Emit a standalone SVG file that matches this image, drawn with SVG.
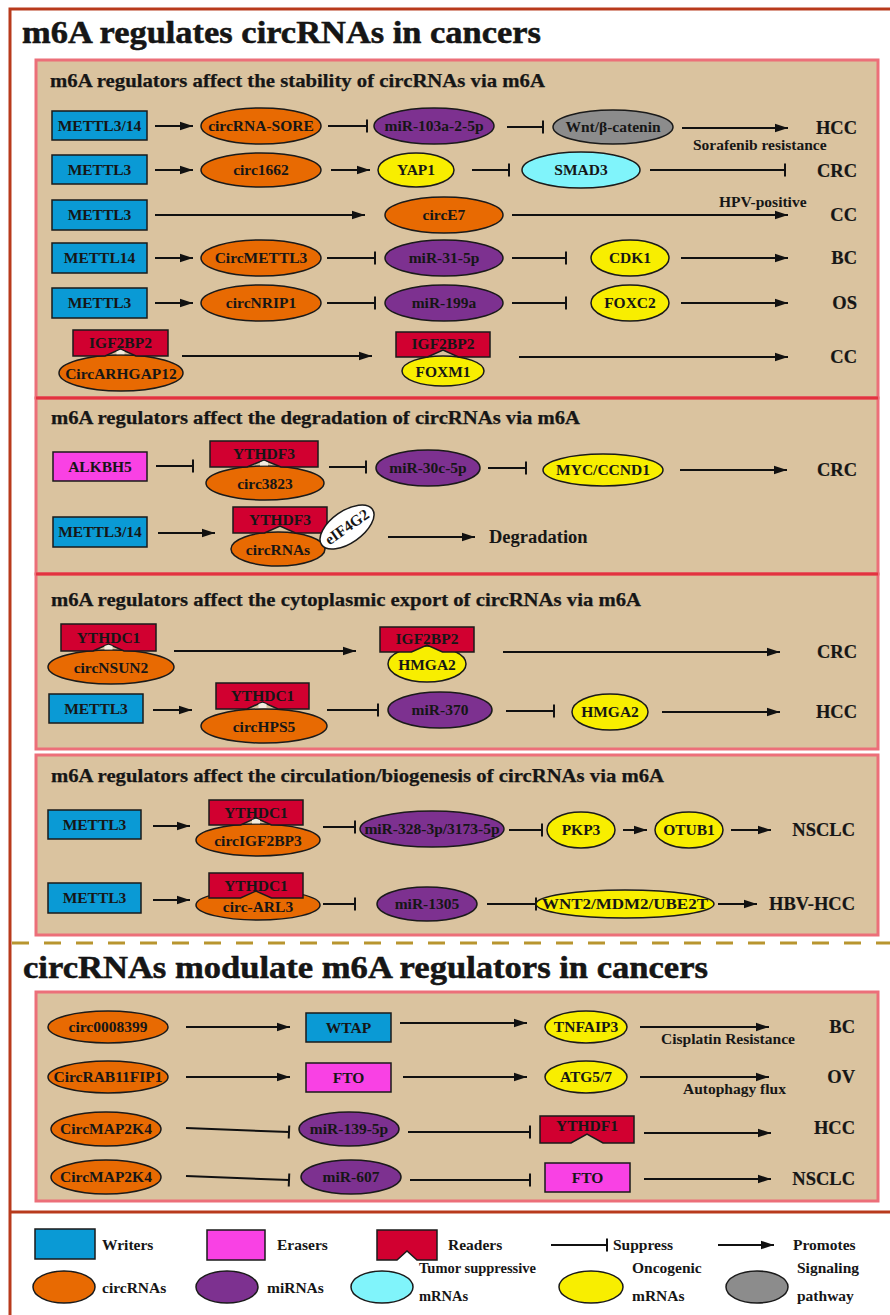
<svg xmlns="http://www.w3.org/2000/svg" width="890" height="1315" viewBox="0 0 890 1315">
<defs>
<style>
text{font-family:"Liberation Serif","Times New Roman",serif;font-weight:bold;fill:#161616}
.t{font-size:15.5px;text-anchor:middle}
.lb{font-size:15.5px}
.dz{font-size:18.5px;text-anchor:end;stroke:#161616;stroke-width:0.2}
.hd{font-size:19px;stroke:#161616;stroke-width:0.25}
.tt{font-size:31px;stroke:#111;stroke-width:0.5}
.w{fill:#0a9ad5;stroke:#1a1a1a;stroke-width:1.5}
.e{fill:#f941e4;stroke:#1a1a1a;stroke-width:1.5}
.r{fill:#d10030;stroke:#1a1a1a;stroke-width:1.5}
.c{fill:#e86a02;stroke:#1a1a1a;stroke-width:1.5}
.m{fill:#7d3190;stroke:#1a1a1a;stroke-width:1.5}
.ts{fill:#80f4fb;stroke:#1a1a1a;stroke-width:1.5}
.o{fill:#f8ee00;stroke:#1a1a1a;stroke-width:1.5}
.sg{fill:#8c8c8c;stroke:#1a1a1a;stroke-width:1.5}
.wh{fill:#ffffff;stroke:#1a1a1a;stroke-width:1.5}
.sec{fill:#dac39f;stroke:#ec6f79;stroke-width:3}
.p{stroke:#111;stroke-width:2;fill:none;marker-end:url(#ar)}
.s{stroke:#111;stroke-width:2;fill:none;marker-end:url(#bar)}
.gap{fill:#f3ece0}
</style>
<marker id="ar" markerUnits="userSpaceOnUse" markerWidth="14" markerHeight="10" refX="13" refY="5" orient="auto"><path d="M0,0.8 L13,5 L0,9.2 Z" fill="#111"/></marker>
<marker id="bar" markerUnits="userSpaceOnUse" markerWidth="4" markerHeight="14" refX="2" refY="7" orient="auto"><rect x="1" y="0.5" width="2" height="13" fill="#111"/></marker>
</defs>
<rect x="0" y="0" width="890" height="1315" fill="#ffffff"/>
<g id="frame" fill="none" stroke="#b83a1c" stroke-width="3">
<path d="M892,9 H10 V1317"/>
<line x1="10" y1="1212" x2="892" y2="1212"/>
</g>
<line x1="12" y1="943" x2="890" y2="943" stroke="#b8952f" stroke-width="3" stroke-dasharray="17 15"/>
<g id="sections">
<rect class="sec" x="36" y="60" width="842" height="338"/>
<rect class="sec" x="36" y="398" width="842" height="176"/>
<rect class="sec" x="36" y="574" width="842" height="175"/>
<rect class="sec" x="36" y="755" width="842" height="180"/>
<rect class="sec" x="36" y="992" width="842" height="209"/>
<line x1="36" y1="398" x2="878" y2="398" stroke="#e2333f" stroke-width="3"/>
<line x1="36" y1="574" x2="878" y2="574" stroke="#e2333f" stroke-width="3"/>
</g>
<g id="titles">
<text class="tt" x="22" y="43" textLength="519" lengthAdjust="spacingAndGlyphs">m6A regulates circRNAs in cancers</text>
<text class="tt" x="23" y="978" textLength="685" lengthAdjust="spacingAndGlyphs">circRNAs modulate m6A regulators in cancers</text>
<text class="hd" x="50" y="87" textLength="495" lengthAdjust="spacingAndGlyphs">m6A regulators affect the stability of circRNAs via m6A</text>
<text class="hd" x="51" y="424" textLength="529" lengthAdjust="spacingAndGlyphs">m6A regulators affect the degradation of circRNAs via m6A</text>
<text class="hd" x="51" y="606" textLength="590" lengthAdjust="spacingAndGlyphs">m6A regulators affect the cytoplasmic export of circRNAs via m6A</text>
<text class="hd" x="51" y="782" textLength="613" lengthAdjust="spacingAndGlyphs">m6A regulators affect the circulation/biogenesis of circRNAs via m6A</text>
</g>
<g id="connectors">
<line class="p" x1="155" y1="126" x2="193" y2="126"/>
<line class="s" x1="328" y1="126" x2="367" y2="126"/>
<line class="s" x1="507" y1="127" x2="543" y2="127"/>
<line class="p" x1="682" y1="128" x2="788" y2="128"/>
<line class="p" x1="155" y1="170" x2="193" y2="170"/>
<line class="p" x1="331" y1="170" x2="370" y2="170"/>
<line class="s" x1="472" y1="170" x2="509" y2="170"/>
<line class="s" x1="650" y1="170" x2="785" y2="170"/>
<line class="p" x1="155" y1="215" x2="365" y2="215"/>
<line class="p" x1="512" y1="215" x2="788" y2="215"/>
<line class="p" x1="155" y1="258" x2="193" y2="258"/>
<line class="s" x1="327" y1="258" x2="375" y2="258"/>
<line class="s" x1="512" y1="258" x2="566" y2="258"/>
<line class="p" x1="681" y1="258" x2="788" y2="258"/>
<line class="p" x1="155" y1="303" x2="193" y2="303"/>
<line class="s" x1="327" y1="303" x2="375" y2="303"/>
<line class="s" x1="512" y1="303" x2="566" y2="303"/>
<line class="p" x1="681" y1="303" x2="788" y2="303"/>
<line class="p" x1="182" y1="356" x2="372" y2="356"/>
<line class="p" x1="519" y1="357" x2="788" y2="357"/>
<line class="s" x1="156" y1="466" x2="193" y2="466"/>
<line class="s" x1="329" y1="467" x2="366" y2="467"/>
<line class="s" x1="488" y1="468" x2="526" y2="468"/>
<line class="p" x1="680" y1="470" x2="787" y2="470"/>
<line class="p" x1="158" y1="533" x2="215" y2="533"/>
<line class="p" x1="388" y1="537" x2="475" y2="537"/>
<line class="p" x1="174" y1="651" x2="356" y2="651"/>
<line class="p" x1="503" y1="652" x2="780" y2="652"/>
<line class="p" x1="153" y1="710" x2="192" y2="710"/>
<line class="s" x1="327" y1="710" x2="378" y2="710"/>
<line class="s" x1="506" y1="711" x2="554" y2="711"/>
<line class="p" x1="662" y1="712" x2="780" y2="712"/>
<line class="p" x1="153" y1="826" x2="190" y2="826"/>
<line class="s" x1="323" y1="827" x2="355" y2="827"/>
<line class="s" x1="509" y1="830" x2="542" y2="830"/>
<line class="p" x1="623" y1="830" x2="647" y2="830"/>
<line class="p" x1="731" y1="830" x2="771" y2="830"/>
<line class="p" x1="153" y1="900" x2="190" y2="900"/>
<line class="s" x1="323" y1="904" x2="355" y2="904"/>
<line class="s" x1="487" y1="904" x2="536" y2="904"/>
<line class="p" x1="718" y1="904" x2="757" y2="904"/>
<line class="p" x1="186" y1="1027" x2="290" y2="1027"/>
<line class="p" x1="400" y1="1023" x2="527" y2="1023"/>
<line class="p" x1="640" y1="1027" x2="769" y2="1027"/>
<line class="p" x1="186" y1="1077" x2="290" y2="1077"/>
<line class="p" x1="403" y1="1077" x2="527" y2="1077"/>
<line class="p" x1="640" y1="1077" x2="769" y2="1077"/>
<line class="s" x1="186" y1="1128" x2="289" y2="1132"/>
<line class="s" x1="408" y1="1132" x2="530" y2="1132"/>
<line class="p" x1="644" y1="1133" x2="771" y2="1133"/>
<line class="s" x1="186" y1="1176" x2="289" y2="1180"/>
<line class="s" x1="410" y1="1180" x2="530" y2="1180"/>
<line class="p" x1="644" y1="1179" x2="771" y2="1179"/>
</g>
<g id="labels">
<text class="dz" x="857" y="134">HCC</text>
<text class="lb" x="693" y="150" font-size="15">Sorafenib resistance</text>
<text class="dz" x="857" y="177">CRC</text>
<text class="lb" x="719" y="207" font-size="15">HPV-positive</text>
<text class="dz" x="857" y="221">CC</text>
<text class="dz" x="857" y="264">BC</text>
<text class="dz" x="857" y="309">OS</text>
<text class="dz" x="857" y="363">CC</text>
<text class="dz" x="857" y="476">CRC</text>
<text class="lb" x="489" y="543" style="font-size:18.5px">Degradation</text>
<text class="dz" x="857" y="658">CRC</text>
<text class="dz" x="857" y="718">HCC</text>
<text class="dz" x="855" y="836">NSCLC</text>
<text class="dz" x="855" y="910">HBV-HCC</text>
<text class="dz" x="855" y="1033">BC</text>
<text class="lb" x="661" y="1044">Cisplatin Resistance</text>
<text class="dz" x="855" y="1083">OV</text>
<text class="lb" x="683" y="1094">Autophagy flux</text>
<text class="dz" x="855" y="1134">HCC</text>
<text class="dz" x="855" y="1185">NSCLC</text>
</g>
<g id="n-METTL3-14-a"><rect class="w" x="52" y="111" width="95" height="29"/><text class="t" x="99.5" y="131">METTL3/14</text></g>
<g id="n-circRNA-SORE"><ellipse class="c" cx="261" cy="126" rx="60" ry="18"/><text class="t" x="261" y="131">circRNA-SORE</text></g>
<g id="n-miR-103a"><ellipse class="m" cx="434" cy="126" rx="60" ry="18"/><text class="t" x="434" y="131">miR-103a-2-5p</text></g>
<g id="n-Wnt"><ellipse class="sg" cx="613" cy="127" rx="60" ry="17"/><text class="t" x="613" y="132">Wnt/β-catenin</text></g>
<g id="n-METTL3-a"><rect class="w" x="52" y="155" width="95" height="29"/><text class="t" x="99.5" y="175">METTL3</text></g>
<g id="n-circ1662"><ellipse class="c" cx="261" cy="170" rx="60" ry="17"/><text class="t" x="261" y="175">circ1662</text></g>
<g id="n-YAP1"><ellipse class="o" cx="416" cy="170" rx="38" ry="17"/><text class="t" x="416" y="175">YAP1</text></g>
<g id="n-SMAD3"><ellipse class="ts" cx="581" cy="170" rx="59" ry="18"/><text class="t" x="581" y="175">SMAD3</text></g>
<g id="n-METTL3-b"><rect class="w" x="52" y="200" width="95" height="30"/><text class="t" x="99.5" y="220">METTL3</text></g>
<g id="n-circE7"><ellipse class="c" cx="444" cy="215" rx="59" ry="18"/><text class="t" x="444" y="220">circE7</text></g>
<g id="n-METTL14"><rect class="w" x="52" y="243" width="95" height="30"/><text class="t" x="99.5" y="263">METTL14</text></g>
<g id="n-CircMETTL3"><ellipse class="c" cx="261" cy="258" rx="60" ry="18"/><text class="t" x="261" y="263">CircMETTL3</text></g>
<g id="n-miR-31"><ellipse class="m" cx="444" cy="258" rx="59" ry="18"/><text class="t" x="444" y="263">miR-31-5p</text></g>
<g id="n-CDK1"><ellipse class="o" cx="630" cy="258" rx="39" ry="18"/><text class="t" x="630" y="263">CDK1</text></g>
<g id="n-METTL3-c"><rect class="w" x="52" y="288" width="95" height="30"/><text class="t" x="99.5" y="308">METTL3</text></g>
<g id="n-circNRIP1"><ellipse class="c" cx="261" cy="303" rx="60" ry="18"/><text class="t" x="261" y="308">circNRIP1</text></g>
<g id="n-miR-199a"><ellipse class="m" cx="444" cy="303" rx="59" ry="18"/><text class="t" x="444" y="308">miR-199a</text></g>
<g id="n-FOXC2"><ellipse class="o" cx="630" cy="303" rx="39" ry="18"/><text class="t" x="630" y="308">FOXC2</text></g>
<g id="n-IGF2BP2-CircARHGAP12"><ellipse class="c" cx="121" cy="373" rx="62" ry="18"/><text class="t" x="121" y="379">CircARHGAP12</text><path class="r" d="M73,330H168V356H136L120.5,349L105,356H73Z"/><path class="gap" d="M116.5,351.5L120.5,349.7L124.5,351.5L124.5,354.3L116.5,354.3Z"/><text class="t" x="120.5" y="348">IGF2BP2</text></g>
<g id="n-IGF2BP2-FOXM1"><ellipse class="o" cx="443" cy="371" rx="41" ry="15"/><text class="t" x="443" y="377">FOXM1</text><path class="r" d="M396,332H490V357H458.5L443,350L427.5,357H396Z"/><text class="t" x="443" y="349">IGF2BP2</text></g>
<g id="n-ALKBH5"><rect class="e" x="53" y="452" width="94" height="29"/><text class="t" x="100" y="472">ALKBH5</text></g>
<g id="n-YTHDF3-circ3823"><ellipse class="c" cx="265" cy="483" rx="59" ry="17"/><text class="t" x="265" y="489">circ3823</text><path class="r" d="M210,441H318V467H281L264,460L247,467H210Z"/><path class="gap" d="M260,462.5L264,460.8L268,462.5L268,465.5L260,465.5Z"/><text class="t" x="264" y="459">YTHDF3</text></g>
<g id="n-miR-30c"><ellipse class="m" cx="428" cy="468" rx="52" ry="18"/><text class="t" x="428" y="473">miR-30c-5p</text></g>
<g id="n-MYC"><ellipse class="o" cx="603" cy="470" rx="60" ry="16"/><text class="t" x="603" y="475">MYC/CCND1</text></g>
<g id="n-METTL3-14-b"><rect class="w" x="53" y="517" width="94" height="30"/><text class="t" x="100" y="537">METTL3/14</text></g>
<g id="n-YTHDF3-circRNAs"><ellipse class="c" cx="278" cy="549" rx="47" ry="17"/><text class="t" x="278" y="555">circRNAs</text><path class="r" d="M233,507H327V533H295.5L280,526L264.5,533H233Z"/><text class="t" x="280" y="525">YTHDF3</text></g>
<g id="n-eIF4G2" transform="rotate(-35 347 527)"><ellipse class="wh" cx="347" cy="527" rx="31" ry="16"/><text class="t" x="347" y="532">eIF4G2</text></g>
<g id="n-YTHDC1-circNSUN2"><ellipse class="c" cx="111" cy="667" rx="63" ry="17"/><text class="t" x="111" y="673">circNSUN2</text><path class="r" d="M61,624H156V651H124L108.5,644L93,651H61Z"/><path class="gap" d="M104.5,646L108.5,644.7L112.5,646L112.5,649.5L104.5,649.5Z"/><text class="t" x="108.5" y="643">YTHDC1</text></g>
<g id="n-IGF2BP2-HMGA2"><ellipse class="o" cx="427" cy="664" rx="39" ry="18"/><text class="t" x="427" y="670">HMGA2</text><path class="r" d="M380,627H474V652H442.5L427,645L411.5,652H380Z"/><text class="t" x="427" y="644">IGF2BP2</text></g>
<g id="n-METTL3-d"><rect class="w" x="49" y="694" width="94" height="29"/><text class="t" x="96" y="714">METTL3</text></g>
<g id="n-YTHDC1-circHPS5"><ellipse class="c" cx="264" cy="726" rx="63" ry="17"/><text class="t" x="264" y="732">circHPS5</text><path class="r" d="M216,683H309V709H278L262.5,702L247,709H216Z"/><path class="gap" d="M258.5,704L262.5,702.7L266.5,704L266.5,708L258.5,708Z"/><text class="t" x="262.5" y="701">YTHDC1</text></g>
<g id="n-miR-370"><ellipse class="m" cx="440" cy="710" rx="52" ry="18"/><text class="t" x="440" y="715">miR-370</text></g>
<g id="n-HMGA2"><ellipse class="o" cx="610" cy="712" rx="38" ry="18"/><text class="t" x="610" y="717">HMGA2</text></g>
<g id="n-METTL3-e"><rect class="w" x="48" y="810" width="93" height="29"/><text class="t" x="94.5" y="830">METTL3</text></g>
<g id="n-YTHDC1-circIGF2BP3"><ellipse class="c" cx="258" cy="840" rx="62" ry="16"/><text class="t" x="258" y="846">circIGF2BP3</text><path class="r" d="M209,800H303V825H271.5L256,818L240.5,825H209Z"/><path class="gap" d="M252,820L256,818.7L260,820L260,823.5L252,823.5Z"/><text class="t" x="256" y="818">YTHDC1</text></g>
<g id="n-miR-328"><ellipse class="m" cx="432" cy="829" rx="72" ry="18"/><text class="t" x="432" y="834">miR-328-3p/3173-5p</text></g>
<g id="n-PKP3"><ellipse class="o" cx="581" cy="830" rx="34" ry="18"/><text class="t" x="581" y="835">PKP3</text></g>
<g id="n-OTUB1"><ellipse class="o" cx="689" cy="830" rx="34" ry="18"/><text class="t" x="689" y="835">OTUB1</text></g>
<g id="n-METTL3-f"><rect class="w" x="48" y="883" width="93" height="30"/><text class="t" x="94.5" y="903">METTL3</text></g>
<g id="n-YTHDC1-circARL3"><ellipse class="c" cx="258" cy="905" rx="62" ry="15"/><text class="t" x="258" y="912">circ-ARL3</text><path class="r" d="M209,873H303V898H271.5L256,891L240.5,898H209Z"/><text class="t" x="256" y="891">YTHDC1</text></g>
<g id="n-miR-1305"><ellipse class="m" cx="427" cy="904" rx="50" ry="17"/><text class="t" x="427" y="909">miR-1305</text></g>
<g id="n-WNT2"><ellipse class="o" cx="625" cy="904" rx="89" ry="14"/><text class="t" x="625" y="909" textLength="166" lengthAdjust="spacingAndGlyphs">WNT2/MDM2/UBE2T</text></g>
<g id="n-circ0008399"><ellipse class="c" cx="108" cy="1027" rx="60" ry="16"/><text class="t" x="108" y="1032">circ0008399</text></g>
<g id="n-WTAP"><rect class="w" x="306" y="1013" width="85" height="29"/><text class="t" x="348.5" y="1033">WTAP</text></g>
<g id="n-TNFAIP3"><ellipse class="o" cx="586" cy="1027" rx="41" ry="16"/><text class="t" x="586" y="1032">TNFAIP3</text></g>
<g id="n-CircRAB11FIP1"><ellipse class="c" cx="108" cy="1077" rx="60" ry="16"/><text class="t" x="108" y="1082">CircRAB11FIP1</text></g>
<g id="n-FTO-a"><rect class="e" x="306" y="1063" width="85" height="29"/><text class="t" x="348.5" y="1083">FTO</text></g>
<g id="n-ATG5-7"><ellipse class="o" cx="586" cy="1077" rx="41" ry="16"/><text class="t" x="586" y="1082">ATG5/7</text></g>
<g id="n-CircMAP2K4-a"><ellipse class="c" cx="106" cy="1129" rx="55" ry="17"/><text class="t" x="106" y="1134">CircMAP2K4</text></g>
<g id="n-miR-139"><ellipse class="m" cx="349" cy="1129" rx="50" ry="17"/><text class="t" x="349" y="1134">miR-139-5p</text></g>
<g id="n-YTHDF1"><path class="r" d="M540,1116H634V1143H603L587,1134L571,1143H540Z"/><text class="t" x="587" y="1131">YTHDF1</text></g>
<g id="n-CircMAP2K4-b"><ellipse class="c" cx="106" cy="1177" rx="55" ry="17"/><text class="t" x="106" y="1182">CircMAP2K4</text></g>
<g id="n-miR-607"><ellipse class="m" cx="351" cy="1177" rx="50" ry="17"/><text class="t" x="351" y="1182">miR-607</text></g>
<g id="n-FTO-b"><rect class="e" x="545" y="1163" width="85" height="29"/><text class="t" x="587.5" y="1183">FTO</text></g>
<g id="legend">
<rect class="w" x="35" y="1229" width="60" height="30"/><text class="lb" x="102" y="1250">Writers</text>
<rect class="e" x="207" y="1230" width="58" height="30"/><text class="lb" x="277" y="1250">Erasers</text>
<path class="r" d="M377,1230H437V1260H417L407,1251L397,1260H377Z"/><text class="lb" x="448" y="1250">Readers</text>
<line class="s" x1="551" y1="1245" x2="607" y2="1245"/><text class="lb" x="613" y="1250">Suppress</text>
<line class="p" x1="718" y1="1245" x2="774" y2="1245"/><text class="lb" x="793" y="1250">Promotes</text>
<ellipse class="c" cx="64" cy="1287" rx="31" ry="16"/><text class="lb" x="102" y="1293">circRNAs</text>
<ellipse class="m" cx="227" cy="1287" rx="31" ry="16"/><text class="lb" x="267" y="1293">miRNAs</text>
<ellipse class="ts" cx="382" cy="1287" rx="31" ry="16"/><text class="lb" x="419" y="1273" style="font-size:14.5px">Tumor suppressive</text><text class="lb" x="419" y="1301" style="font-size:14.5px">mRNAs</text>
<ellipse class="o" cx="591" cy="1287" rx="32" ry="16"/><text class="lb" x="632" y="1273">Oncogenic</text><text class="lb" x="632" y="1301">mRNAs</text>
<ellipse class="sg" cx="757" cy="1287" rx="31" ry="16"/><text class="lb" x="797" y="1273">Signaling</text><text class="lb" x="797" y="1301">pathway</text>
</g>
</svg>
